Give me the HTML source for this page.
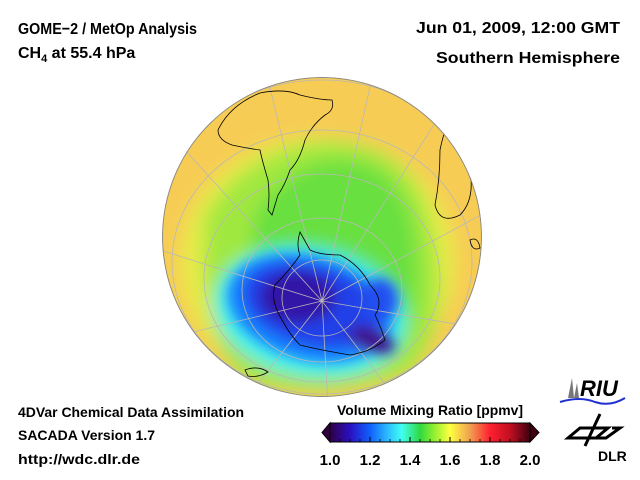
<!DOCTYPE html>
<html><head><meta charset="utf-8"><style>
html,body{margin:0;padding:0;background:#fff;width:640px;height:480px;overflow:hidden}
text{font-family:"Liberation Sans",sans-serif;font-weight:bold;fill:#000}
</style></head><body>
<svg id="chart" width="640" height="480" viewBox="0 0 640 480">
<defs>
<clipPath id="globeClip"><circle cx="322" cy="237" r="160"/></clipPath>
<filter id="blur8" x="-50%" y="-50%" width="200%" height="200%"><feGaussianBlur stdDeviation="9"/></filter>
<filter id="blur5" x="-50%" y="-50%" width="200%" height="200%"><feGaussianBlur stdDeviation="6"/></filter>
<linearGradient id="cbGrad" x1="0" x2="1" y1="0" y2="0">
<stop offset="0" stop-color="#300048"/>
<stop offset="0.1" stop-color="#2a10c0"/>
<stop offset="0.2" stop-color="#1060ff"/>
<stop offset="0.3" stop-color="#30c8ff"/>
<stop offset="0.36" stop-color="#40fff0"/>
<stop offset="0.45" stop-color="#30d840"/>
<stop offset="0.52" stop-color="#90f030"/>
<stop offset="0.6" stop-color="#ffff40"/>
<stop offset="0.7" stop-color="#f0a050"/>
<stop offset="0.8" stop-color="#ff2030"/>
<stop offset="0.9" stop-color="#c01020"/>
<stop offset="1" stop-color="#400010"/>
</linearGradient>
</defs>

<text x="18" y="34" font-size="16" textLength="179" lengthAdjust="spacingAndGlyphs">GOME−2 / MetOp Analysis</text>
<text x="18" y="58" font-size="16">CH<tspan font-size="11" dy="4">4</tspan><tspan dy="-4"> at 55.4 hPa</tspan></text>
<text x="620" y="33" font-size="16" text-anchor="end" textLength="204" lengthAdjust="spacingAndGlyphs">Jun 01, 2009, 12:00 GMT</text>
<text x="620" y="63" font-size="16" text-anchor="end" textLength="184" lengthAdjust="spacingAndGlyphs">Southern Hemisphere</text>

<g id="globe" clip-path="url(#globeClip)">
<circle cx="322" cy="237" r="160" fill="#f7cc55"/>
<g filter="url(#blur8)">
<ellipse cx="318" cy="262" rx="138" ry="125" fill="#e8ec48"/>
<path d="M205 215 Q250 145 330 142 Q410 145 430 220 Q455 320 410 372 Q330 402 250 382 Q195 340 205 215Z" fill="#a0e840"/>
<path d="M255 215 Q290 160 345 160 Q405 165 415 240 Q425 320 395 355 Q330 380 270 365 Q240 320 255 215Z" fill="#68e040"/>
<ellipse cx="310" cy="312" rx="96" ry="64" fill="#40f0f0" transform="rotate(10 310 312)"/>
</g>
<g filter="url(#blur5)">
<ellipse cx="310" cy="308" rx="84" ry="52" fill="#1880ff" transform="rotate(15 310 308)"/>
<ellipse cx="312" cy="305" rx="70" ry="40" fill="#2040e8" transform="rotate(15 312 305)"/>
<ellipse cx="298" cy="297" rx="38" ry="26" fill="#3018a8"/>
<ellipse cx="372" cy="340" rx="24" ry="12" fill="#401890" transform="rotate(20 372 340)"/>
<ellipse cx="380" cy="300" rx="18" ry="22" fill="#2050f0"/>
</g>
<g fill="none" stroke="#b8b8b8" stroke-width="0.8">
<ellipse cx="322" cy="298" rx="40" ry="38"/>
<ellipse cx="322" cy="290" rx="80" ry="72"/>
<ellipse cx="322" cy="278" rx="118" ry="104"/>
<ellipse cx="322" cy="262" rx="150" ry="132"/>
<ellipse cx="322" cy="240" rx="175" ry="160"/>
<path d="M322 301 L268 80 M322 301 L372 78 M322 301 L440 115 M322 301 L490 210 M322 301 L490 330 M322 301 L420 430 M322 301 L330 440 M322 301 L230 420 M322 301 L160 340 M322 301 L160 250 M322 301 L185 150"/>
</g>
<g fill="none" stroke="#000" stroke-width="0.8">
<path d="M218 130 Q230 105 260 93 Q285 88 300 95 Q320 100 332 100 Q335 110 325 115 Q312 125 305 140 Q300 160 290 170 Q285 185 278 195 Q275 205 272 215 L268 210 Q270 195 268 180 Q262 160 260 150 Q245 148 232 145 Q218 140 218 130Z"/>
<path d="M455 110 Q470 140 470 170 Q475 200 460 215 Q440 225 435 205 Q440 180 440 150 Q445 125 455 110Z"/>
<path d="M300 232 Q296 245 300 255 Q290 270 275 285 Q270 300 282 320 Q290 335 300 345 Q320 350 350 355 Q370 352 385 340 Q380 325 375 315 Q385 300 370 285 Q360 265 340 255 Q320 255 310 250 Z"/>
<path d="M245 370 Q258 365 268 372 Q258 378 248 376Z"/>
<path d="M470 240 Q478 236 480 248 Q472 252 470 240Z"/>
</g>
<circle cx="322" cy="237" r="159.5" fill="none" stroke="#888" stroke-width="1"/>
</g>

<text x="18" y="417" font-size="14" textLength="226" lengthAdjust="spacingAndGlyphs">4DVar Chemical Data Assimilation</text>
<text x="18" y="440" font-size="14" textLength="137" lengthAdjust="spacingAndGlyphs">SACADA Version 1.7</text>
<text x="18" y="464" font-size="14" textLength="122" lengthAdjust="spacingAndGlyphs">http://wdc.dlr.de</text>

<text x="430" y="415" font-size="14" text-anchor="middle" textLength="186" lengthAdjust="spacingAndGlyphs">Volume Mixing Ratio [ppmv]</text>
<g id="colorbar">
<polygon points="330,423 322,432.5 330,442" fill="#300040" stroke="#000" stroke-width="1"/>
<polygon points="530,423 539,432.5 530,442" fill="#400010" stroke="#000" stroke-width="1"/>
<rect x="330" y="423" width="200" height="19" fill="url(#cbGrad)" stroke="#000" stroke-width="1"/>
<g id="cbTicks"></g>
</g>

<g>
<path d="M568 398 L572 378 L574 398Z M574 398 L577 383 L579 398Z" fill="#777"/>
<text x="580" y="396" font-size="22" font-style="italic" fill="#000">RIU</text>
<path d="M560 402 Q580 396 595 402 Q610 407 625 398" fill="none" stroke="#2030d0" stroke-width="2"/>
</g>
<g>
<path d="M600 414 L585 446 M592 438 L568 438 L580 428 L608 428 L596 438 M612 428 L620 428 L606 438 L592 438" fill="none" stroke="#000" stroke-width="3"/>
<text x="598" y="461" font-size="14">DLR</text>
</g>
</svg>
<script>
const tickValues=[1.0,1.2,1.4,1.6,1.8,2.0];
const tickLabels=["1.0","1.2","1.4","1.6","1.8","2.0"];
const minorTicks=[1.05,1.1,1.15,1.25,1.3,1.35,1.45,1.5,1.55,1.65,1.7,1.75,1.85,1.9,1.95];
const vmin=1.0,vmax=2.0;
function xScale(v){return 330+(v-vmin)/(vmax-vmin)*200;}
const g=document.getElementById('cbTicks');
const NS='http://www.w3.org/2000/svg';
minorTicks.forEach(v=>{
 const l=document.createElementNS(NS,'line');
 
 
 l.setAttribute('x1',xScale(v));l.setAttribute('x2',xScale(v));
 l.setAttribute('y1',439);l.setAttribute('y2',442);
 l.setAttribute('stroke','#000');l.setAttribute('stroke-width','0.8');
 g.appendChild(l);
});
tickValues.forEach((v,i)=>{
 const l=document.createElementNS(NS,'line');
 
 
 l.setAttribute('x1',xScale(v));l.setAttribute('x2',xScale(v));
 l.setAttribute('y1',437);l.setAttribute('y2',442);
 l.setAttribute('stroke','#000');l.setAttribute('stroke-width','1');
 g.appendChild(l);
 const t=document.createElementNS(NS,'text');
 
 
 t.setAttribute('x',xScale(v));t.setAttribute('y',465);
 t.setAttribute('font-size','15');t.setAttribute('text-anchor','middle');
 t.textContent=tickLabels[i];
 g.appendChild(t);
});
</script>
</body></html>
